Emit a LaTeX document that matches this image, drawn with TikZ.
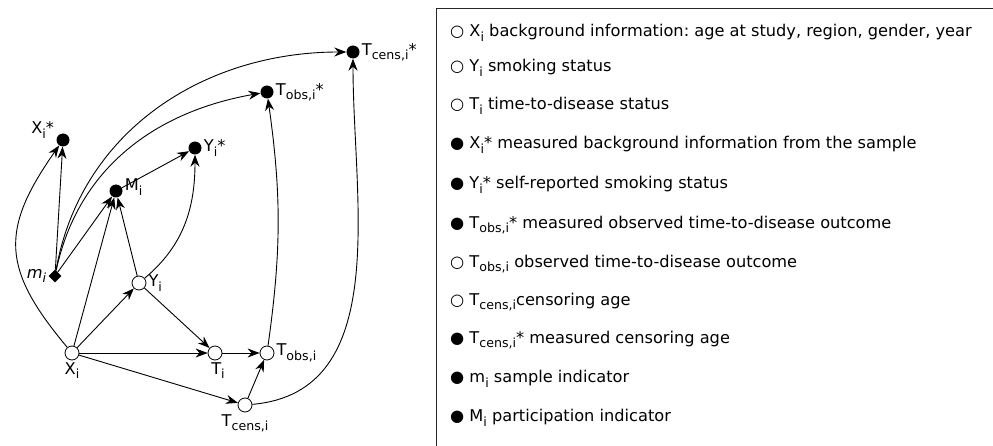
\documentclass[tikz,border=0pt]{standalone}
\usepackage{fontspec}
\setmainfont{DejaVu Sans}
\usetikzlibrary{arrows.meta,shapes.geometric}

\tikzset{
  latent/.style={circle, draw, fill=white, line width=0.8pt, minimum size=14pt, inner sep=0pt},
  measured/.style={circle, fill=black, minimum size=13pt, inner sep=0pt},
  sampled/.style={diamond, fill=black, minimum size=13pt, inner sep=0pt},
  link/.style={line width=0.9pt, -{Stealth[length=12pt,width=9pt]}},
}

\newcommand{\sub}[1]{\raisebox{-4.5pt}{\fontsize{12.6}{12.6}\selectfont #1}}

\begin{document}
\frenchspacing
\begin{tikzpicture}[x=1pt, y=1pt, font=\fontsize{16.2}{19}\selectfont]
  \useasboundingbox (0,0) rectangle (993,-446);

  \begin{scope}[every label/.style={inner sep=2pt}]
    \node[latent]   (X)     at (72,-353)  [label=below:X\sub{i}] {};
    \node[latent]   (T)     at (215,-353) [label={[xshift=3pt]below:T\sub{i}}] {};
    \node[latent]   (Tobs)  at (267,-353) [label=right:T\sub{obs,i}] {};
    \node[latent]   (Tcens) at (245,-405) [label=below:T\sub{cens,i}] {};
    \node[latent]   (Y)     at (139,-283) [label=right:Y\sub{i}] {};
    \node[measured] (M)     at (116,-191) [label={[yshift=4pt]right:M\sub{i}}] {};
    \node[sampled]  (m)     at (55,-276)  [label=left:\textit{m\sub{i}}] {};
    \node[measured] (Xs)    at (63,-140)  [label={[xshift=-2pt,yshift=-5pt]above left:X\sub{i}*}] {};
    \node[measured] (Ys)    at (195,-148) [label=right:Y\sub{i}*] {};
    \node[measured] (Tobss) at (267,-92)  [label=right:T\sub{obs,i}*] {};
    \node[measured] (Tcenss) at (353,-52) [label=right:T\sub{cens,i}*] {};
  \end{scope}

  \begin{scope}[every path/.style={link}]
    \draw (X) to[out=130, in=235, looseness=1.3] (Xs);
    \draw (m) -- (Xs);
    \draw (m) -- (M);
    \draw (m) to[out=80, in=180] (Tcenss);
    \draw (m) to[out=78, in=190] (Tobss);
    \draw (X) -- (M);
    \draw (Y) -- (M);
    \draw (M) -- (Ys);
    \draw (Y) to[out=40, in=270] (Ys);
    \draw (X) -- (Y);
    \draw (Y) -- (T);
    \draw (X) -- (T);
    \draw (T) -- (Tobs);
    \draw (X) -- (Tcens);
    \draw (Tcens) -- (Tobs);
    \draw (Tobs) to[out=82, in=278] (Tobss);
    \draw (Tcens) to[out=5, in=270] (Tcenss);
  \end{scope}

  % legend
  \draw[line width=0.8pt, gray!30!black] (993,-8) -- (436,-8) -- (436,-446);
  \begin{scope}[every node/.style={anchor=west, inner sep=0pt}]
    \node (l1)  at (450,-33)  {○ X\sub{i} background information: age at study, region, gender, year};
    \node (l2)  at (450,-68)  {○ Y\sub{i} smoking status};
    \node (l3)  at (450,-106) {○ T\sub{i} time-to-disease status};
    \node (l4)  at (450,-145) {● X\sub{i}* measured background information from the sample};
    \node (l5)  at (450,-185) {● Y\sub{i}* self-reported smoking status};
    \node (l6)  at (450,-225) {● T\sub{obs,i}* measured observed time-to-disease outcome};
    \node (l7)  at (450,-264) {○ T\sub{obs,i} observed time-to-disease outcome};
    \node (l8)  at (450,-302) {○ T\sub{cens,i}censoring age};
    \node (l9)  at (450,-340) {● T\sub{cens,i}* measured censoring age};
    \node (l10) at (450,-379) {● m\sub{i} sample indicator};
    \node (l11) at (450,-418) {● M\sub{i} participation indicator};
  \end{scope}

\end{tikzpicture}
\end{document}
